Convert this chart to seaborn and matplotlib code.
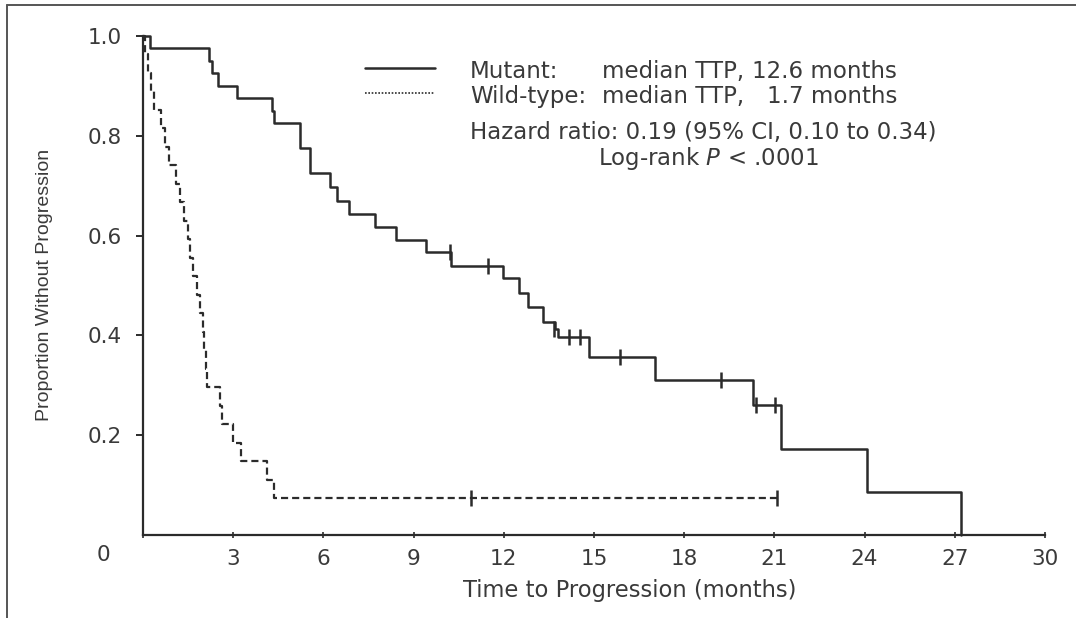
import numpy as np
import pandas as pd
import matplotlib
matplotlib.use("Agg")
import matplotlib.pyplot as plt
from matplotlib.lines import Line2D
import seaborn as sns

# ---------------- data ----------------
mutant_time = [0.0, 0.22, 2.20, 2.30, 2.48, 3.14, 4.29, 4.35, 5.23, 5.55, 6.23, 6.46,
               6.84, 7.73, 8.40, 9.40, 10.25, 11.96, 12.51, 12.79, 13.29, 13.70, 13.80,
               14.84, 17.04, 20.28, 21.23, 24.09, 27.20]
mutant_surv = [1.0, 0.975, 0.950, 0.925, 0.900, 0.875, 0.850, 0.825, 0.776, 0.725, 0.698, 0.670,
               0.643, 0.618, 0.591, 0.567, 0.540, 0.515, 0.484, 0.456, 0.427, 0.412, 0.397,
               0.357, 0.310, 0.260, 0.172, 0.086, 0.0]
mutant_cens_time = [10.20, 11.46, 13.68, 14.18, 14.54, 15.88, 19.21, 20.40, 21.03]
mutant_cens_surv = [0.567, 0.540, 0.412, 0.397, 0.397, 0.357, 0.310, 0.260, 0.260]

wild_time = [0.0, 0.05, 0.17, 0.25, 0.37, 0.61, 0.72, 0.88, 1.10, 1.23, 1.37, 1.51, 1.57,
             1.66, 1.79, 1.90, 1.99, 2.03, 2.10, 2.14, 2.57, 2.62, 3.00, 3.26, 4.12, 4.37, 21.07]
wild_surv = [1.0, 0.963, 0.926, 0.889, 0.852, 0.815, 0.778, 0.741, 0.704, 0.667, 0.630, 0.593,
             0.556, 0.519, 0.481, 0.444, 0.407, 0.370, 0.333, 0.296, 0.259, 0.222, 0.185,
             0.148, 0.111, 0.074, 0.074]
wild_cens_time = [10.90, 21.07]
wild_cens_surv = [0.074, 0.074]

x_ticks = [0, 3, 6, 9, 12, 15, 18, 21, 24, 27, 30]
x_ticklabels = ["", "3", "6", "9", "12", "15", "18", "21", "24", "27", "30"]
y_ticks = [0.2, 0.4, 0.6, 0.8, 1.0]
y_ticklabels = ["0.2", "0.4", "0.6", "0.8", "1.0"]

legend_mutant = ("Mutant:", "median TTP,", "12.6 months")
legend_wild = ("Wild-type:", "median TTP,", "1.7 months")
hazard_text = "Hazard ratio: 0.19 (95% CI, 0.10 to 0.34)"
logrank_text = "Log-rank $P$ < .0001"
xlabel = "Time to Progression (months)"
ylabel = "Proportion Without Progression"

# ---------------- styling ----------------
sns.set_theme(style="ticks")
plt.rcParams["font.family"] = ["DejaVu Sans"]
plt.rcParams["mathtext.fontset"] = "dejavusans"

W_PX, H_PX = 1076, 618
INK = "#2b2b2b"
TXT = "#3a3a3a"

def fx(px):
    return px / W_PX

def fy(py):
    return 1 - py / H_PX

fig = plt.figure(figsize=(W_PX / 100, H_PX / 100), dpi=100)
fig.patch.set_facecolor("white")

ax_l, ax_r, ax_t, ax_b = 143, 1045, 36, 535
ax = fig.add_axes([fx(ax_l), fy(ax_b), fx(ax_r - ax_l), (ax_b - ax_t) / H_PX])
ax.set_facecolor("white")

mut = pd.DataFrame({"time": mutant_time, "surv": mutant_surv})
wild = pd.DataFrame({"time": wild_time, "surv": wild_surv})
mut_c = pd.DataFrame({"time": mutant_cens_time, "surv": mutant_cens_surv})
wild_c = pd.DataFrame({"time": wild_cens_time, "surv": wild_cens_surv})

sns.lineplot(data=mut, x="time", y="surv", ax=ax, estimator=None, sort=False,
             drawstyle="steps-post", color=INK, linewidth=1.8, clip_on=False)
sns.lineplot(data=wild, x="time", y="surv", ax=ax, estimator=None, sort=False,
             drawstyle="steps-post", color=INK, linewidth=1.6,
             linestyle=(0, (3.2, 1.8)), clip_on=False)
sns.scatterplot(data=mut_c, x="time", y="surv", ax=ax, marker="|", s=120,
                linewidth=1.8, color=INK, clip_on=False, zorder=4)
sns.scatterplot(data=wild_c, x="time", y="surv", ax=ax, marker="|", s=120,
                linewidth=1.8, color=INK, clip_on=False, zorder=4)

ax.set_xlim(0, 30)
ax.set_ylim(0, 1.0)
ax.set_xticks(x_ticks)
ax.set_xticklabels(x_ticklabels)
ax.set_yticks(y_ticks)
ax.set_yticklabels(y_ticklabels)
ax.set_xlabel("")
ax.set_ylabel("")
sns.despine(ax=ax)
for s in ("left", "bottom"):
    ax.spines[s].set_linewidth(1.6)
    ax.spines[s].set_color(INK)
ax.tick_params(axis="y", direction="out", length=5, width=1.4, color=INK,
               labelsize=15.5, labelcolor=TXT, pad=10)
ax.tick_params(axis="x", direction="inout", length=4, width=1.2, color=INK,
               labelsize=15.5, labelcolor=TXT, pad=8)

# combined origin label
fig.text(fx(103), fy(555), "0", fontsize=15.5, color=TXT, ha="center", va="center")

# axis titles
fig.text(fx(630), fy(590), xlabel, fontsize=16.3, color=TXT, ha="center", va="center")
fig.text(fx(45), fy(285), ylabel, fontsize=14, color=TXT, ha="center", va="center",
         rotation=90, family=["Liberation Sans", "DejaVu Sans"])

# legend block
fs_leg = 16.5
fig.add_artist(Line2D([fx(365), fx(435)], [fy(68), fy(68)], transform=fig.transFigure,
                      color=INK, linewidth=1.8))
fig.add_artist(Line2D([fx(365), fx(435)], [fy(93), fy(93)], transform=fig.transFigure,
                      color=INK, linewidth=1.2, linestyle=(0, (1, 1))))
for (lab, med, val), yy in ((legend_mutant, 78), (legend_wild, 103)):
    fig.text(fx(470), fy(yy), lab, fontsize=fs_leg, color=TXT, ha="left", va="baseline")
    fig.text(fx(602), fy(yy), med, fontsize=fs_leg, color=TXT, ha="left", va="baseline")
    fig.text(fx(897), fy(yy), val, fontsize=fs_leg, color=TXT, ha="right", va="baseline")
fig.text(fx(470), fy(139), hazard_text, fontsize=fs_leg, color=TXT, ha="left", va="baseline")
fig.text(fx(598), fy(165), logrank_text, fontsize=fs_leg, color=TXT, ha="left", va="baseline")

# page frame (left and top border of the scanned figure)
fig.add_artist(Line2D([fx(7), fx(7)], [0, fy(5)], transform=fig.transFigure,
                      color="#555555", linewidth=1.4))
fig.add_artist(Line2D([fx(7), 1], [fy(5), fy(5)], transform=fig.transFigure,
                      color="#555555", linewidth=1.4))

fig.savefig("out.png", dpi=100, facecolor="white")
